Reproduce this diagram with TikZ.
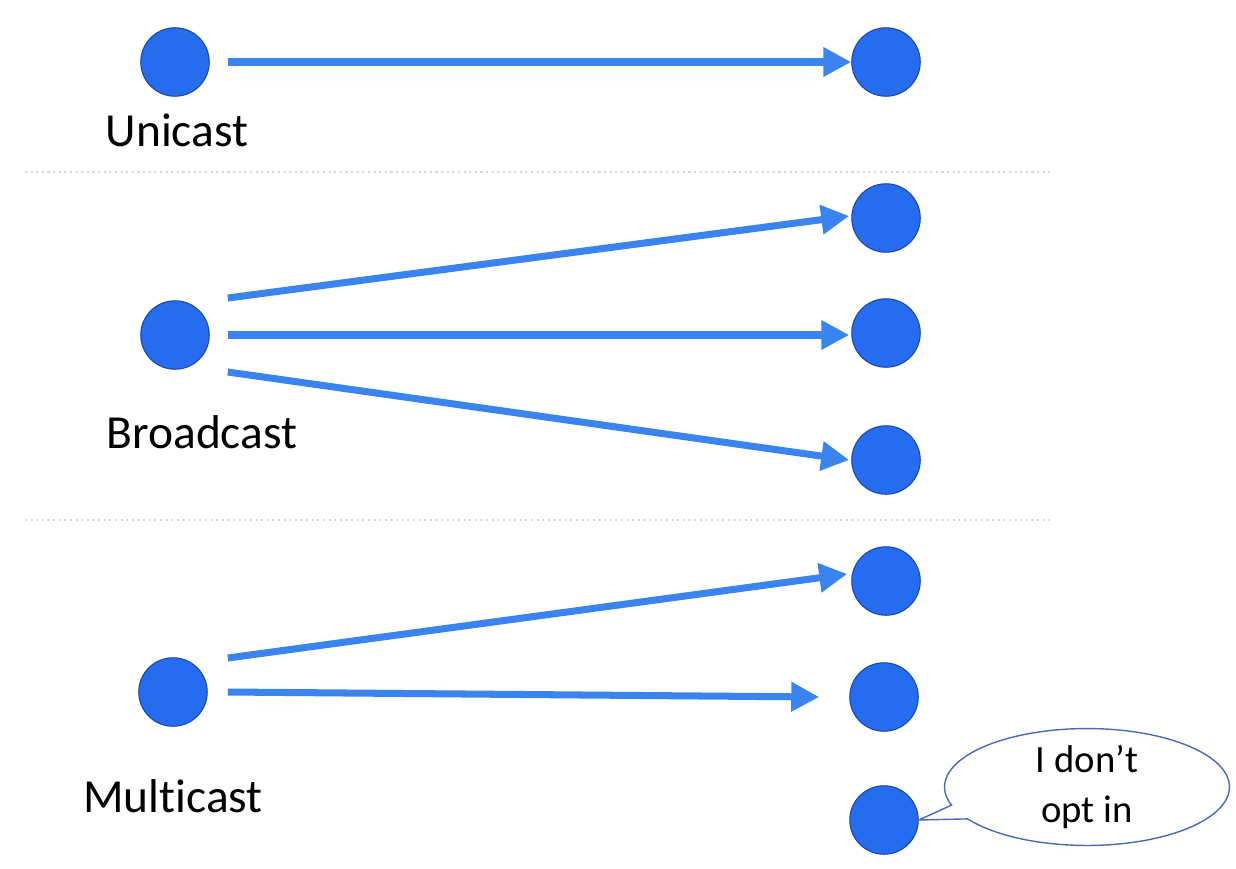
\documentclass[tikz,border=0pt]{standalone}
\usepackage{fontspec}
\setmainfont{Carlito}[Ligatures=CommonOff]
\usetikzlibrary{arrows.meta, positioning, shapes.geometric, shapes.callouts}

\definecolor{dotblue}{RGB}{38,108,238}
\definecolor{dotedge}{RGB}{25,70,170}
\definecolor{arrblue}{RGB}{58,132,240}

\begin{document}
\begin{tikzpicture}[
    x=0.02cm, y=-0.02cm,
    dot/.style={circle, fill=dotblue, draw=dotedge, line width=0.6pt,
                minimum size=1.37cm, inner sep=0pt},
    arr/.style={-{Triangle[length=0.56cm, width=0.56cm]}, line width=4pt, draw=arrblue},
    lbl/.style={font=\fontsize{27}{32}\selectfont, anchor=base, inner sep=0pt},
    sep/.style={dotted, line width=1.2pt, draw=gray!30}
]
\useasboundingbox (0,0) rectangle (1236,868);

% Unicast
\node[dot] (usrc) at (175,62) {};
\node[dot] (udst) at (886,62) {};
\node[lbl] (ulbl) at (177,147) {Unicast};

% Broadcast
\node[dot] (bsrc)  at (175,335) {};
\node[dot] (bdst1) at (886,218) {};
\node[dot] (bdst2) at (886,333) {};
\node[dot] (bdst3) at (886,460) {};
\node[lbl] (blbl) at (202,448) {Broadcast};

% Multicast
\node[dot] (msrc)  at (173,692) {};
\node[dot] (mdst1) at (886,581) {};
\node[dot] (mdst2) at (884,697) {};
\node[dot] (mdst3) at (884,820) {};
\node[lbl] (mlbl) at (173,812) {Multicast};

% Speech bubble
\node[ellipse callout, draw=dotedge!80, fill=white, line width=0.8pt,
      minimum width=5.7cm, minimum height=1.95cm, inner sep=0pt,
      align=center, font=\fontsize{22}{28}\selectfont,
      callout absolute pointer={(mdst3.east)}] (bubble) at (1087,787)
      {I don’t\\opt in};

% Separators
\draw[sep] (25,172) -- (1050,172);
\draw[sep] (25,520) -- (1050,520);

% Arrows
\draw[arr] ([shift={(18,0)}]usrc.east) -- (udst.west);

\draw[arr] ([shift={(18,-37)}]bsrc.east) -- ([shift={(-2,-2)}]bdst1.west);
\draw[arr] ([shift={(18,0)}]bsrc.east)   -- ([shift={(-2,2)}]bdst2.west);
\draw[arr] ([shift={(18,37)}]bsrc.east)  -- ([shift={(-2,0)}]bdst3.west);

\draw[arr] ([shift={(20,-34)}]msrc.east) -- ([shift={(-4,-7)}]mdst1.west);
\draw[arr] ([shift={(20,0)}]msrc.east)   -- ([shift={(-30,0)}]mdst2.west);
\end{tikzpicture}
\end{document}
